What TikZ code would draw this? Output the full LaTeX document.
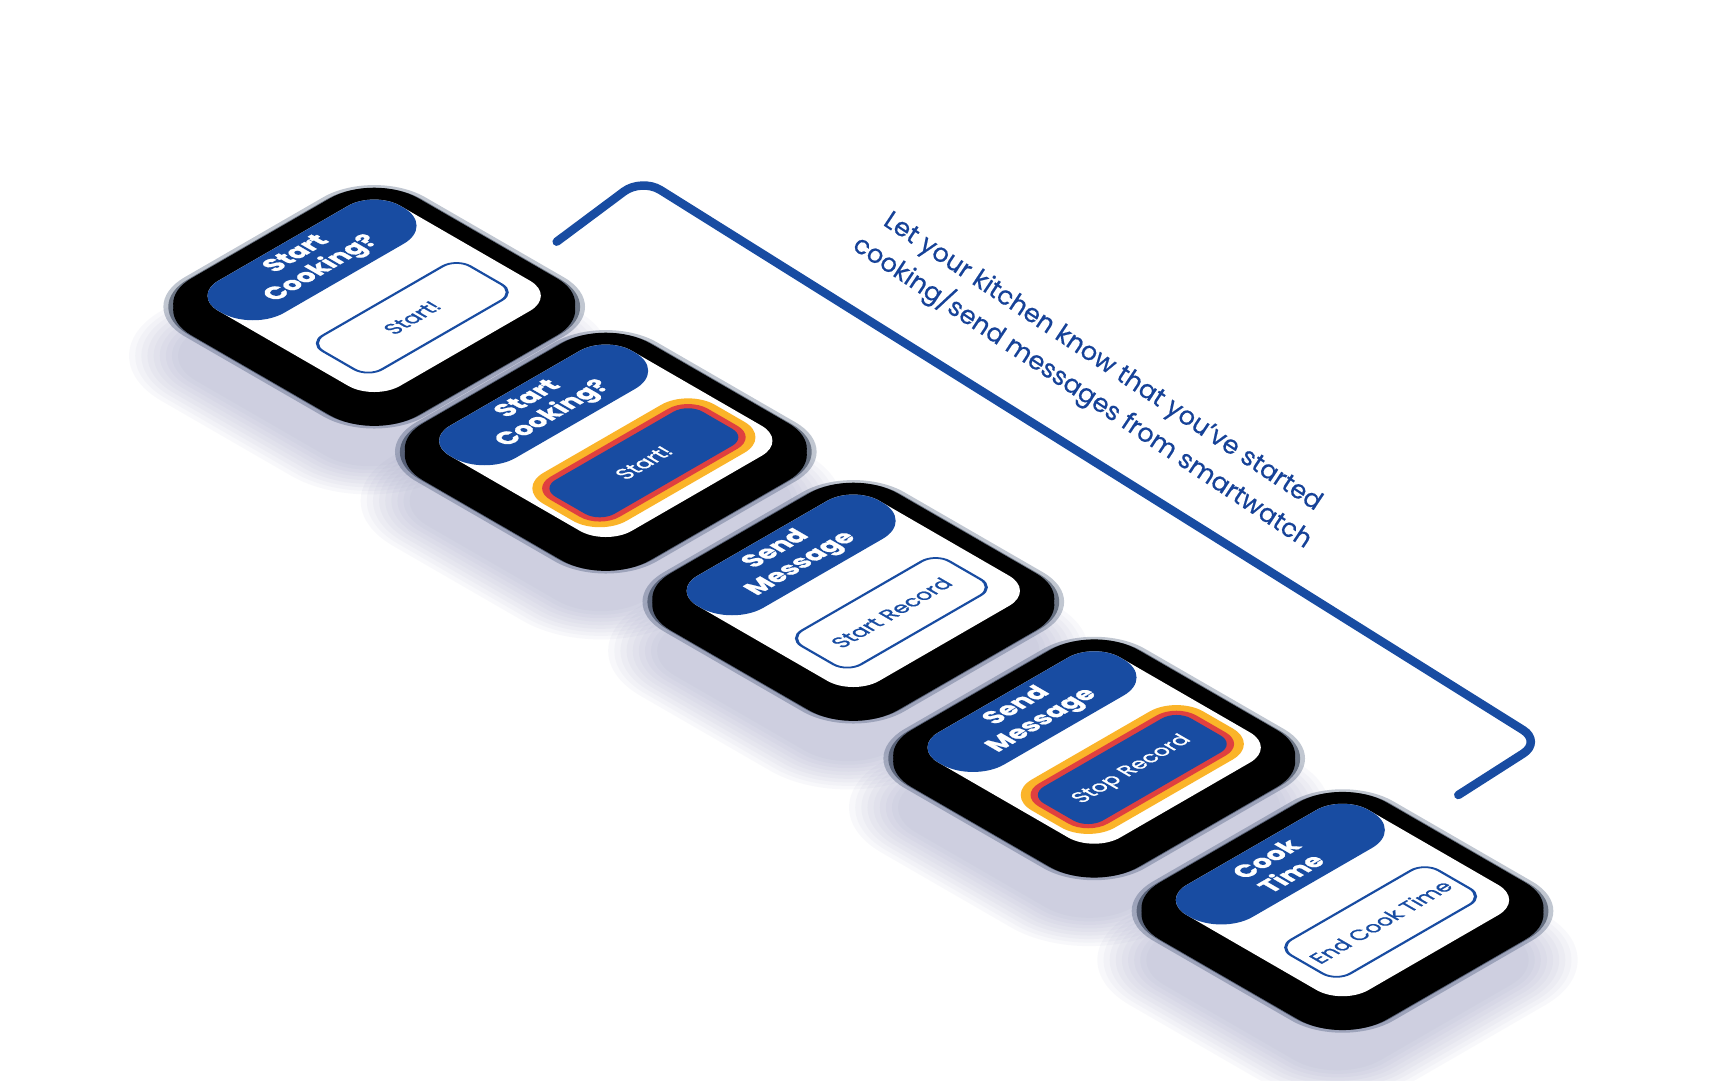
\documentclass[tikz,border=0pt]{standalone}
\usepackage{fontspec}
\setmainfont{Poppins}
\newfontfamily\hdfont{Poppins}[FakeBold=0.8]
\newfontfamily\medfont{Poppins}[FakeBold=0.9]
\newfontfamily\notefont{Poppins}[FakeBold=0.5]
\definecolor{wblue}{RGB}{24,76,162}
\definecolor{txtblue}{RGB}{22,66,152}
\definecolor{wyellow}{RGB}{251,180,41}
\definecolor{wred}{RGB}{224,64,63}
\definecolor{wshadow}{RGB}{140,144,185}
\tikzset{
  iso/.style={transform canvas={cm={0.866,0.5,-0.866,0.5,#1}}},
  hdtext/.style={text=white, font=\hdfont\bfseries\fontsize{25}{29}\selectfont, align=center},
  btntext/.style={font=\medfont\fontsize{21}{24}\selectfont},
  bracket/.style={wblue, line width=8.5pt, line cap=round, line join=round, rounded corners=22pt},
  note/.style={text=txtblue, font=\notefont\fontsize{25.5}{37}\selectfont, align=center, rotate=-33.5},
}
\newcommand\rfill[6]{\fill[#1,rounded corners=#6] ({#2-(#4)},{#3-(#5)}) rectangle ({#2+(#4)},{#3+(#5)});}
\newcommand\watchshadow[1]{%
 \begin{scope}[iso={#1}]
  \foreach \e/\r in {0/50,5/55,10/60,15/65,20/70,25/75,30/80,35/85,40/90}{\rfill{wshadow,opacity=.055}{-10}{-10}{125+\e}{125+\e}{\r}}
 \end{scope}}
\newcommand\watch[5]{%
 \begin{scope}[iso={#2}]
  \rfill{black!55!wblue,opacity=.25}{-11}{-11}{139}{139}{59}
  \rfill{black!75!wblue,opacity=.45}{-11}{-11}{135}{135}{55}
  \rfill{black}{-8}{-8}{131}{131}{51}
  \rfill{black}{-14}{-14}{131}{131}{51}
  \rfill{white}{0}{0}{105}{105}{30}
  \begin{scope}
   \clip[rounded corners=30] (-105,-105) rectangle (105,105);
   \fill[wblue,rounded corners=36] (-105,35) rectangle (105,150);
  \end{scope}
  \node[hdtext] (#1h) at (-3,71) {#3};
  \ifnum#5=1
   \rfill{wyellow}{0}{-44}{99}{48}{31}
   \rfill{wred}{0}{-44}{91}{40}{23}
   \rfill{wblue}{0}{-44}{85}{34}{17}
   \node[btntext,text=white] (#1b) at (0,-44) {#4};
  \else
   \draw[wblue,line width=2.5pt,fill=white,rounded corners=16] (-85,-78) rectangle (85,-10);
   \node[btntext,text=wblue] (#1b) at (0,-44) {#4};
  \fi
 \end{scope}}
\begin{document}
\begin{tikzpicture}[x=1pt,y=1pt]
\useasboundingbox (0,0) rectangle (1717,1080);
\fill[white] (0,0) rectangle (1717,1080);
% shadows
\watchshadow{(369.2,734.2)}
\watchshadow{(600.8,589.2)}
\watchshadow{(848.3,439.2)}
\watchshadow{(1089.2,282.5)}
\watchshadow{(1337.5,130)}
% watches
\watch{wa}{(374.2,784.2)}{Start\\Cooking?}{Start!}{0}
\watch{wb}{(605.8,639.2)}{Start\\Cooking?}{Start!}{1}
\watch{wc}{(853.3,489.2)}{Send\\Message}{Start Record}{0}
\watch{wd}{(1094.2,332.5)}{Send\\Message}{Stop Record}{1}
\watch{we}{(1342.5,180)}{Cook\\Time}{End Cook Time}{0}
% bracket
\coordinate (b1) at (556.7,838.3);
\coordinate (b2) at (641.7,901.7);
\coordinate (b3) at (1541.7,338.3);
\coordinate (b4) at (1458.3,285);
\draw[bracket] (b1) -- (b2) -- (b3) -- (b4);
\node[note] (note) at (1092,702) {Let your kitchen know that you’ve started\\cooking/send messages from smartwatch};
\end{tikzpicture}
\end{document}
